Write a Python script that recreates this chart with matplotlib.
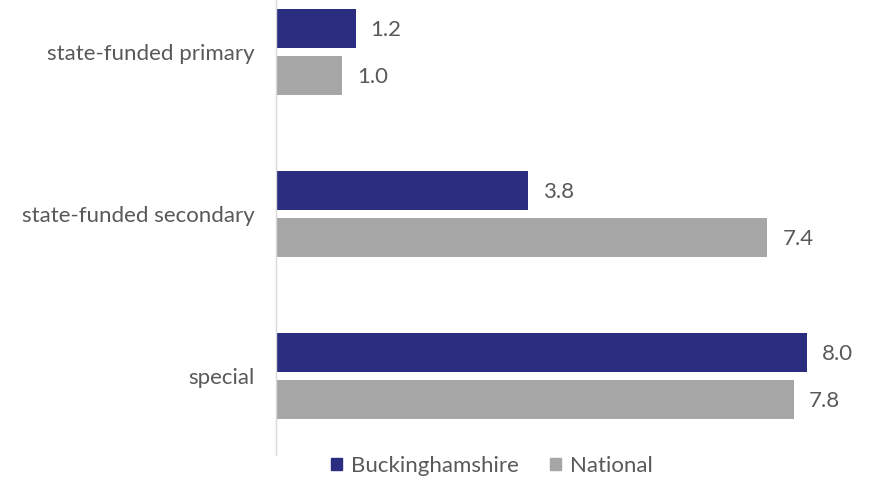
import matplotlib
matplotlib.use('Agg')
import matplotlib.pyplot as plt
from matplotlib.patches import Patch

# Rate by school type
categories = ["state-funded primary", "state-funded secondary", "special"]
bucks = [1.2, 3.8, 8.0]
national = [1.0, 7.4, 7.8]

NAVY = "#2B2D80"
GREY = "#A6A6A6"
TEXT = "#595959"
FS = 16

plt.rcParams['font.family'] = ['Lato', 'DejaVu Sans']

W, H = 871, 479
fig = plt.figure(figsize=(W / 100, H / 100), dpi=100)
ax = fig.add_axes([276 / W, (H - 455) / H, (W - 276) / W, 455 / H])

spacing = 162.0
bh = 39 / spacing
off = 23.5 / spacing
pos = list(range(len(categories)))

ax.barh([p - off for p in pos], bucks, height=bh, color=NAVY)
ax.barh([p + off for p in pos], national, height=bh, color=GREY)

pad = 15 / 66.4
for p, v in zip(pos, bucks):
    ax.text(v + pad, p - off + 0.01, f"{v:.1f}", va='center', ha='left', color=TEXT, fontsize=FS)
for p, v in zip(pos, national):
    ax.text(v + pad, p + off + 0.01, f"{v:.1f}", va='center', ha='left', color=TEXT, fontsize=FS)

top = -52 / spacing
ax.set_ylim(top + 455 / spacing, top)
ax.set_xlim(0, (W - 276) / 66.4)

ax.set_yticks(pos)
ax.set_yticklabels(categories, color=TEXT, fontsize=FS)
ax.tick_params(axis='y', length=0, pad=15.5)
ax.set_xticks([])
for side in ['top', 'right', 'bottom']:
    ax.spines[side].set_visible(False)
ax.spines['left'].set_color('#D9D9D9')
ax.spines['left'].set_linewidth(1)

handles = [Patch(color=NAVY, label="Buckinghamshire"), Patch(color=GREY, label="National")]
fig.legend(handles=handles, loc='center', bbox_to_anchor=(492 / W, 1 - 466 / H), ncol=2,
           frameon=False, fontsize=FS, labelcolor=TEXT, handlelength=0.5, handleheight=0.5,
           handletextpad=0.4, columnspacing=1.4)

fig.savefig("out.png", dpi=100, facecolor='white')
